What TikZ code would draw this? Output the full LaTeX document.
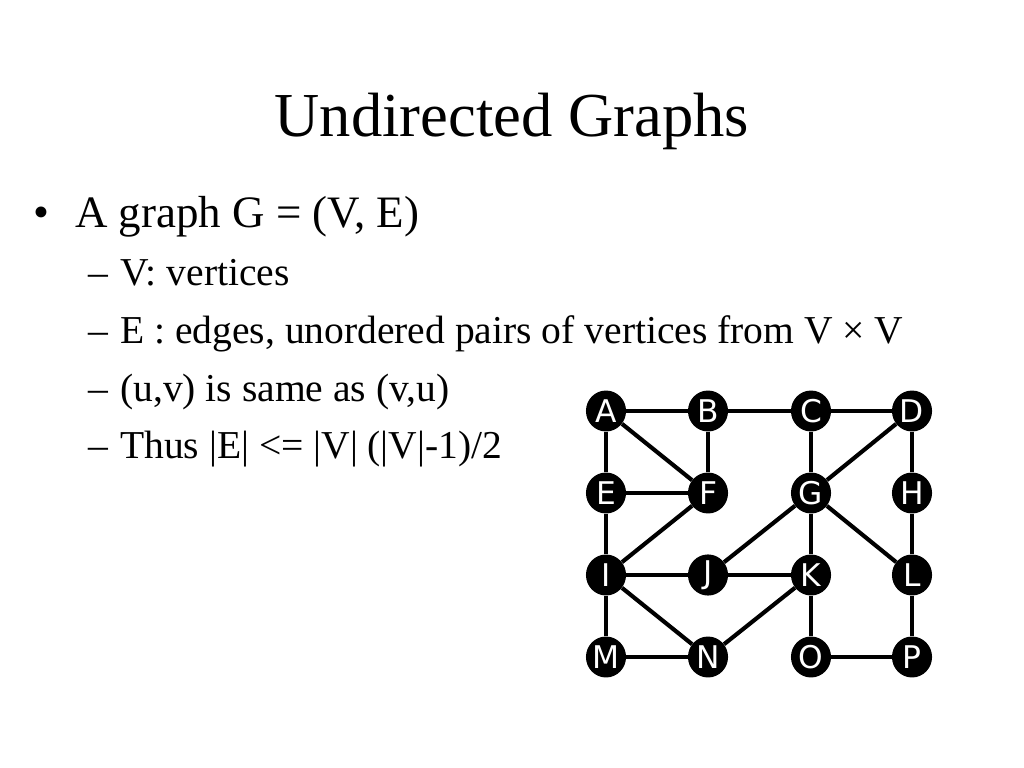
\documentclass[tikz,border=0pt]{standalone}
\usepackage{fontspec}
\setmainfont{Liberation Serif}
\newfontfamily\lblfont{DejaVu Sans}
\usetikzlibrary{shapes.geometric}
\begin{document}
\begin{tikzpicture}[x=0.703125pt,y=-0.703125pt,
  vtx/.style={ellipse,fill=black,draw=none,minimum width=28.2pt,minimum height=28.8pt,inner sep=0pt,
    text=white,font=\lblfont\fontsize{22}{22}\selectfont},
  edge/.style={line width=2.9pt},
  txt/.style={anchor=base west,inner sep=0pt,text=black}]
\useasboundingbox (0,0) rectangle (1024,768);
\fill[white] (0,0) rectangle (1024,768);
% title
\node[anchor=base,inner sep=0pt,font=\fontsize{44}{44}\selectfont] (title) at (512,137) {Undirected Graphs};
% bullets
\node[txt,font=\fontsize{32}{32}\selectfont] (b0) at (33,228) {•};
\node[txt,font=\fontsize{31.6}{32}\selectfont] (t0) at (75,228) {A graph G = (V, E)};
\foreach \n/\yy/\s in {1/286/{V: vertices},2/343/{E : edges, unordered pairs of vertices from V × V},3/401/{(u,v) is same as (v,u)},4/458/{Thus |E| <= |V| (|V|-1)/2}}{
  \node[txt,font=\fontsize{27.8}{28}\selectfont] (d\n) at (88,\yy) {–};
  \node[txt,font=\fontsize{27.8}{28}\selectfont] (t\n) at (120,\yy) {\s};
}
% vertices
\node[vtx] (A) at (606,411) {A};
\node[vtx] (B) at (708,411) {B};
\node[vtx] (C) at (811,411) {C};
\node[vtx] (D) at (912,411) {D};
\node[vtx] (E) at (606,493) {E};
\node[vtx] (F) at (708,493) {F};
\node[vtx] (G) at (811,493) {G};
\node[vtx] (H) at (912,493) {H};
\node[vtx] (I) at (606,575) {I};
\node[vtx] (J) at (708,575) {J};
\node[vtx] (K) at (811,575) {K};
\node[vtx] (L) at (912,575) {L};
\node[vtx] (M) at (606,657) {M};
\node[vtx] (N) at (708,657) {N};
\node[vtx] (O) at (811,657) {O};
\node[vtx] (P) at (912,657) {P};
% edges
\foreach \u/\v in {A/B,B/C,C/D,A/E,A/F,E/F,B/F,C/G,D/G,D/H,F/I,E/I,G/J,G/K,G/L,H/L,I/J,J/K,I/M,I/N,K/N,K/O,L/P,M/N,O/P}{
  \draw[edge] (\u) -- (\v);
}
\end{tikzpicture}
\end{document}
